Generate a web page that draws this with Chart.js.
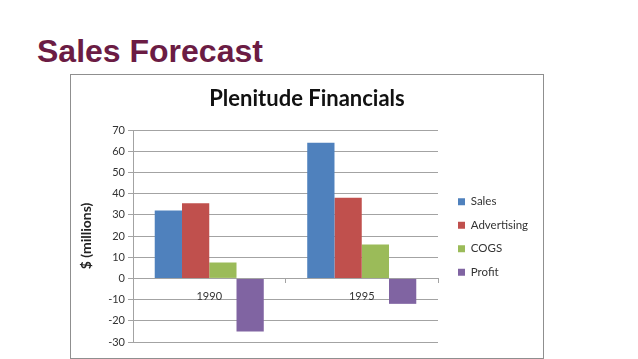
<!DOCTYPE html>
<html>
<head>
<meta charset="utf-8">
<script src="https://cdn.jsdelivr.net/npm/chart.js@4/dist/chart.umd.min.js"></script>
<style>
  html, body { margin: 0; padding: 0; background: #fff; }
  body { width: 638px; height: 359px; position: relative; overflow: hidden; }
  #heading {
    position: absolute; left: 37px; top: 35px;
    font: bold 32px/32px "Liberation Sans", Arial, sans-serif;
    color: #6b1c44; margin: 0;
  }
  #frame {
    position: absolute; left: 70px; top: 74px;
    width: 474px; height: 285px; box-sizing: border-box;
    border: 1px solid #8f8f8f;
  }
  #frame canvas { display: block; }
</style>
</head>
<body>
<h1 id="heading">Sales Forecast</h1>
<div id="frame"><canvas id="chart" width="472" height="283"></canvas></div>
<script>
const years = ['1990', '1995'];
const sales = [32, 64];
const advertising = [35.5, 38];
const cogs = [7.5, 16];
const profit = [-25, -12];
const yTicks = { min: -30, max: 70, step: 10 };

const gridGray = '#a3a3a3';
Chart.defaults.font.family = 'Lato, "Open Sans", sans-serif';
Chart.defaults.color = '#333';

// Excel keeps a wider gap between the plot and the legend than Chart.js does
const legendNudge = {
  id: 'legendNudge',
  beforeLayout(chart) {
    const lg = chart.legend;
    if (lg && !lg._nudged) {
      const fit = lg.fit;
      lg.fit = function () {
        fit.call(this);
        this.width = 105;
      };
      lg._nudged = true;
    }
  },
  afterLayout(chart) {
    const lg = chart.legend;
    lg.left += 8;
    lg.right += 8;
    lg.top += 1;
    lg.bottom += 1;
  },
};

new Chart(document.getElementById('chart'), {
  type: 'bar',
  data: {
    labels: years,
    datasets: [
      { label: 'Sales', data: sales, backgroundColor: '#4f81bd' },
      { label: 'Advertising', data: advertising, backgroundColor: '#c0504d' },
      { label: 'COGS', data: cogs, backgroundColor: '#9bbb59' },
      { label: 'Profit', data: profit, backgroundColor: '#8064a2' },
    ],
  },
  options: {
    responsive: false,
    animation: false,
    categoryPercentage: 0.715,
    barPercentage: 1,
    layout: { padding: { left: 0, right: 0, top: 0, bottom: 16 } },
    plugins: {
      title: {
        display: true,
        text: 'Plenitude Financials',
        color: '#111',
        font: { size: 22, weight: 'bold' },
        padding: { top: 10.5, bottom: 18.1 },
      },
      legend: {
        position: 'right',
        fullSize: false,
        labels: {
          boxWidth: 7,
          boxHeight: 7,
          padding: 12,
          color: '#333',
          font: { size: 11.5 },
        },
      },
      tooltip: { enabled: false },
    },
    scales: {
      x: {
        position: { y: 0 },
        grid: { drawOnChartArea: false, tickLength: 4, color: gridGray },
        border: { color: gridGray },
        ticks: { padding: 7, color: '#333', font: { size: 11 } },
      },
      y: {
        min: yTicks.min,
        max: yTicks.max,
        ticks: { stepSize: yTicks.step, padding: 3, color: '#333', font: { size: 11 } },
        grid: { color: gridGray, tickLength: 5 },
        border: { color: gridGray },
        title: {
          display: true,
          text: '$ (millions)',
          color: '#222',
          font: { size: 14, weight: 'bold' },
          padding: { top: 6.6, bottom: 0 },
        },
        afterFit(scale) {
          scale.width = 62;
        },
      },
    },
  },
  plugins: [legendNudge],
});
</script>
</body>
</html>
